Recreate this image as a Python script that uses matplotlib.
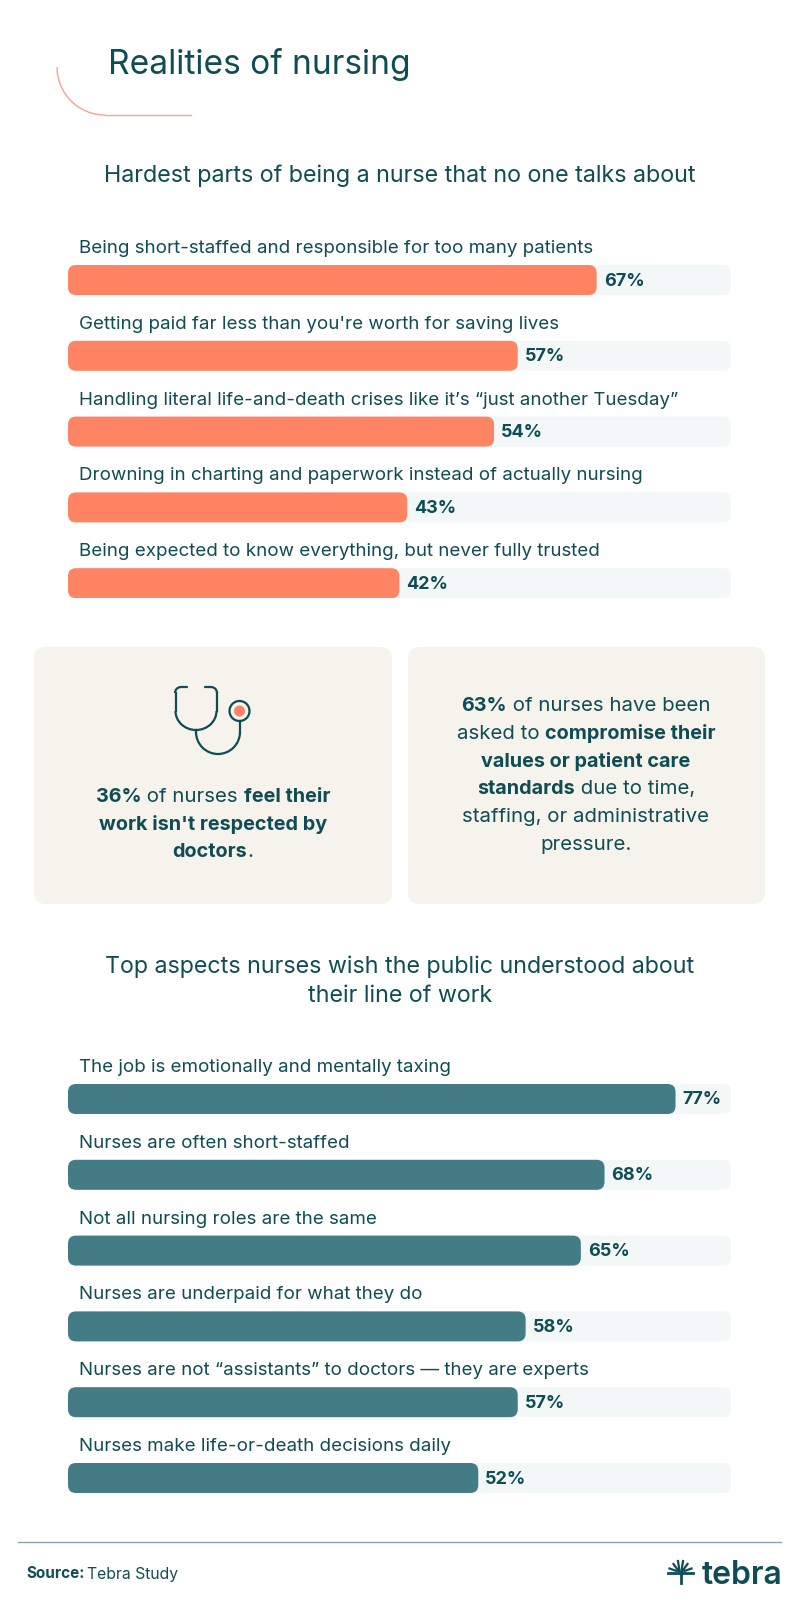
import numpy as np
import matplotlib
matplotlib.use('Agg')
import matplotlib.pyplot as plt
from matplotlib.patches import FancyBboxPatch, Circle, Arc

# данные
top_labels = ['Being short-staffed and responsible for too many patients',
              "Getting paid far less than you're worth for saving lives",
              'Handling literal life-and-death crises like it’s “just another Tuesday”',
              'Drowning in charting and paperwork instead of actually nursing',
              'Being expected to know everything, but never fully trusted']
top_values = [67, 57, 54, 43, 42]

bottom_labels = ['The job is emotionally and mentally taxing',
                 'Nurses are often short-staffed',
                 'Not all nursing roles are the same',
                 'Nurses are underpaid for what they do',
                 'Nurses are not “assistants” to doctors — they are experts',
                 'Nurses make life-or-death decisions daily']
bottom_values = [77, 68, 65, 58, 57, 52]

left_card = [[('36%', True), (' of nurses ', False), ('feel their', True)],
             [("work isn't respected by", True)],
             [('doctors', True), ('.', False)]]
right_card = [[('63%', True), (' of nurses have been', False)],
              [('asked to ', False), ('compromise their', True)],
              [('values or patient care', True)],
              [('standards', True), (' due to time,', False)],
              [('staffing, or administrative', False)],
              [('pressure.', False)]]

DARK = '#0f4c54'
CORAL = '#ff8464'
TEAL = '#437c85'
TRACK = '#f3f7f8'
CARD = '#f6f2ec'
FONT = 'Inter'
W, H = 800, 1607
ROW = 75.8
PX_PER_PCT = 7.89
BAR_H = 30

plt.rcParams['font.family'] = FONT
fig = plt.figure(figsize=(W / 100, H / 100), dpi=100)

# фон в пикселях
bg = fig.add_axes([0, 0, 1, 1])
bg.set_xlim(0, W)
bg.set_ylim(H, 0)
bg.axis('off')


def bars(first_top, labels, values, color):
    n = len(labels)
    track = 663 / PX_PER_PCT
    top = first_top - (ROW - BAR_H)
    ax = fig.add_axes([68 / W, 1 - (top + n * ROW) / H, 663 / W, n * ROW / H])
    ax.set_xlim(0, track)
    # центр строки i в y=i
    below = (BAR_H / 2) / ROW
    ax.set_ylim(n - 1 + below, below - 1)
    ax.axis('off')
    h = BAR_H / ROW
    aspect = PX_PER_PCT / ROW
    r = 8 / PX_PER_PCT
    for i in range(n):
        ax.add_patch(FancyBboxPatch((0, i - h / 2), track, h, boxstyle=f'round,pad=0,rounding_size={r}',
                                    mutation_aspect=aspect, fc=TRACK, ec='none'))
        ax.add_patch(FancyBboxPatch((0, i - h / 2), values[i], h, boxstyle=f'round,pad=0,rounding_size={r}',
                                    mutation_aspect=aspect, fc=color, ec='none'))
        ax.annotate(f'{values[i]}%', xy=(values[i], i), xytext=(7, -1), textcoords='offset pixels',
                    va='center', ha='left', fontsize=13, fontweight='bold', color=DARK)
        ax.annotate(labels[i], xy=(0, i), xytext=(11, 27), textcoords='offset pixels',
                    va='baseline', ha='left', fontsize=13.5, color=DARK, annotation_clip=False)
    return ax


def rich_line(cx, cy, runs, size):
    # строка из жирных и обычных кусков, по центру cx
    r = fig.canvas.get_renderer()
    items = []
    total = 0
    for s, b in runs:
        t = bg.text(0, cy, s.replace(' ', '\u00a0'), fontsize=size * 0.97 if b else size, color=DARK,
                    va='center_baseline', fontweight='bold' if b else 'normal')
        w = t.get_window_extent(r).width
        items.append((t, w))
        total += w
    x = cx - total / 2
    for t, w in items:
        t.set_x(x)
        x += w


# заголовок и дуга
bg.text(108, 74, 'Realities of nursing', fontsize=24.1, color=DARK, va='baseline')
bg.add_patch(Arc((105, 67), 96, 96, theta1=90, theta2=180, color='#f5a48e', lw=1))
bg.plot([105, 191], [115, 115], color='#f5a48e', lw=1)

bg.text(400, 176, 'Hardest parts of being a nurse that no one talks about', fontsize=16.8, color=DARK,
        ha='center', va='center')
bars(265, top_labels, top_values, CORAL)

# карточки
for x0, x1 in [(34, 392), (408, 765)]:
    bg.add_patch(FancyBboxPatch((x0, 647), x1 - x0, 257, boxstyle='round,pad=0,rounding_size=12',
                                fc=CARD, ec='none'))
for i, runs in enumerate(left_card):
    rich_line(213, 795 + i * 27.7, runs, 14.7)
for i, runs in enumerate(right_card):
    rich_line(586, 704 + i * 27.7, runs, 14.7)

# стетоскоп
lw = 1.6
bg.plot([187, 181], [687, 687], color=DARK, lw=lw, solid_capstyle='round')
bg.add_patch(Arc((181, 693), 12, 12, theta1=180, theta2=270, color=DARK, lw=lw))
bg.plot([205, 211], [687, 687], color=DARK, lw=lw, solid_capstyle='round')
bg.add_patch(Arc((211, 693), 12, 12, theta1=270, theta2=360, color=DARK, lw=lw))
bg.plot([175.5, 175.5], [693, 711], color=DARK, lw=lw)
bg.plot([216.5, 216.5], [693, 711], color=DARK, lw=lw)
bg.add_patch(Arc((196, 711), 41, 38, theta1=0, theta2=180, color=DARK, lw=lw))
bg.plot([196, 196], [730, 732], color=DARK, lw=lw)
bg.add_patch(Arc((218, 732), 44, 44, theta1=0, theta2=180, color=DARK, lw=lw))
bg.plot([240, 240], [721, 732], color=DARK, lw=lw)
bg.add_patch(Circle((239.5, 711), 10, fc='none', ec=DARK, lw=lw))
bg.add_patch(Circle((239.5, 711), 5.5, fc=CORAL, ec='none'))

bg.text(400, 967, 'Top aspects nurses wish the public understood about', fontsize=16.75, color=DARK,
        ha='center', va='center')
bg.text(400, 996, 'their line of work', fontsize=16.75, color=DARK, ha='center', va='center')
bars(1084, bottom_labels, bottom_values, TEAL)

# подвал
bg.plot([18, 781], [1542, 1542], color='#8aa5a9', lw=1)
bg.text(26, 1574, 'Source:', fontsize=11, fontweight='bold', color=DARK, va='center')
bg.text(87, 1574, 'Tebra Study', fontsize=11.3, color=DARK, va='center')

# логотип
bg.plot([668, 693], [1573, 1573], color=DARK, lw=2)
bg.plot([680.5, 680.5], [1573, 1583], color=DARK, lw=2)
for s in [-1, 1]:
    bg.plot([680.5 + s, 680.5 + s * 2.5], [1571, 1561], color=DARK, lw=1.6)
    bg.plot([680.5 + s * 2, 680.5 + s * 7], [1571, 1564], color=DARK, lw=1.6)
    bg.plot([680.5 + s * 4, 680.5 + s * 11], [1571, 1568.5], color=DARK, lw=1.6)
bg.text(702, 1584, 'tebra', fontsize=23, fontweight='semibold', color=DARK, va='baseline')

fig.savefig('out.png', dpi=100)
